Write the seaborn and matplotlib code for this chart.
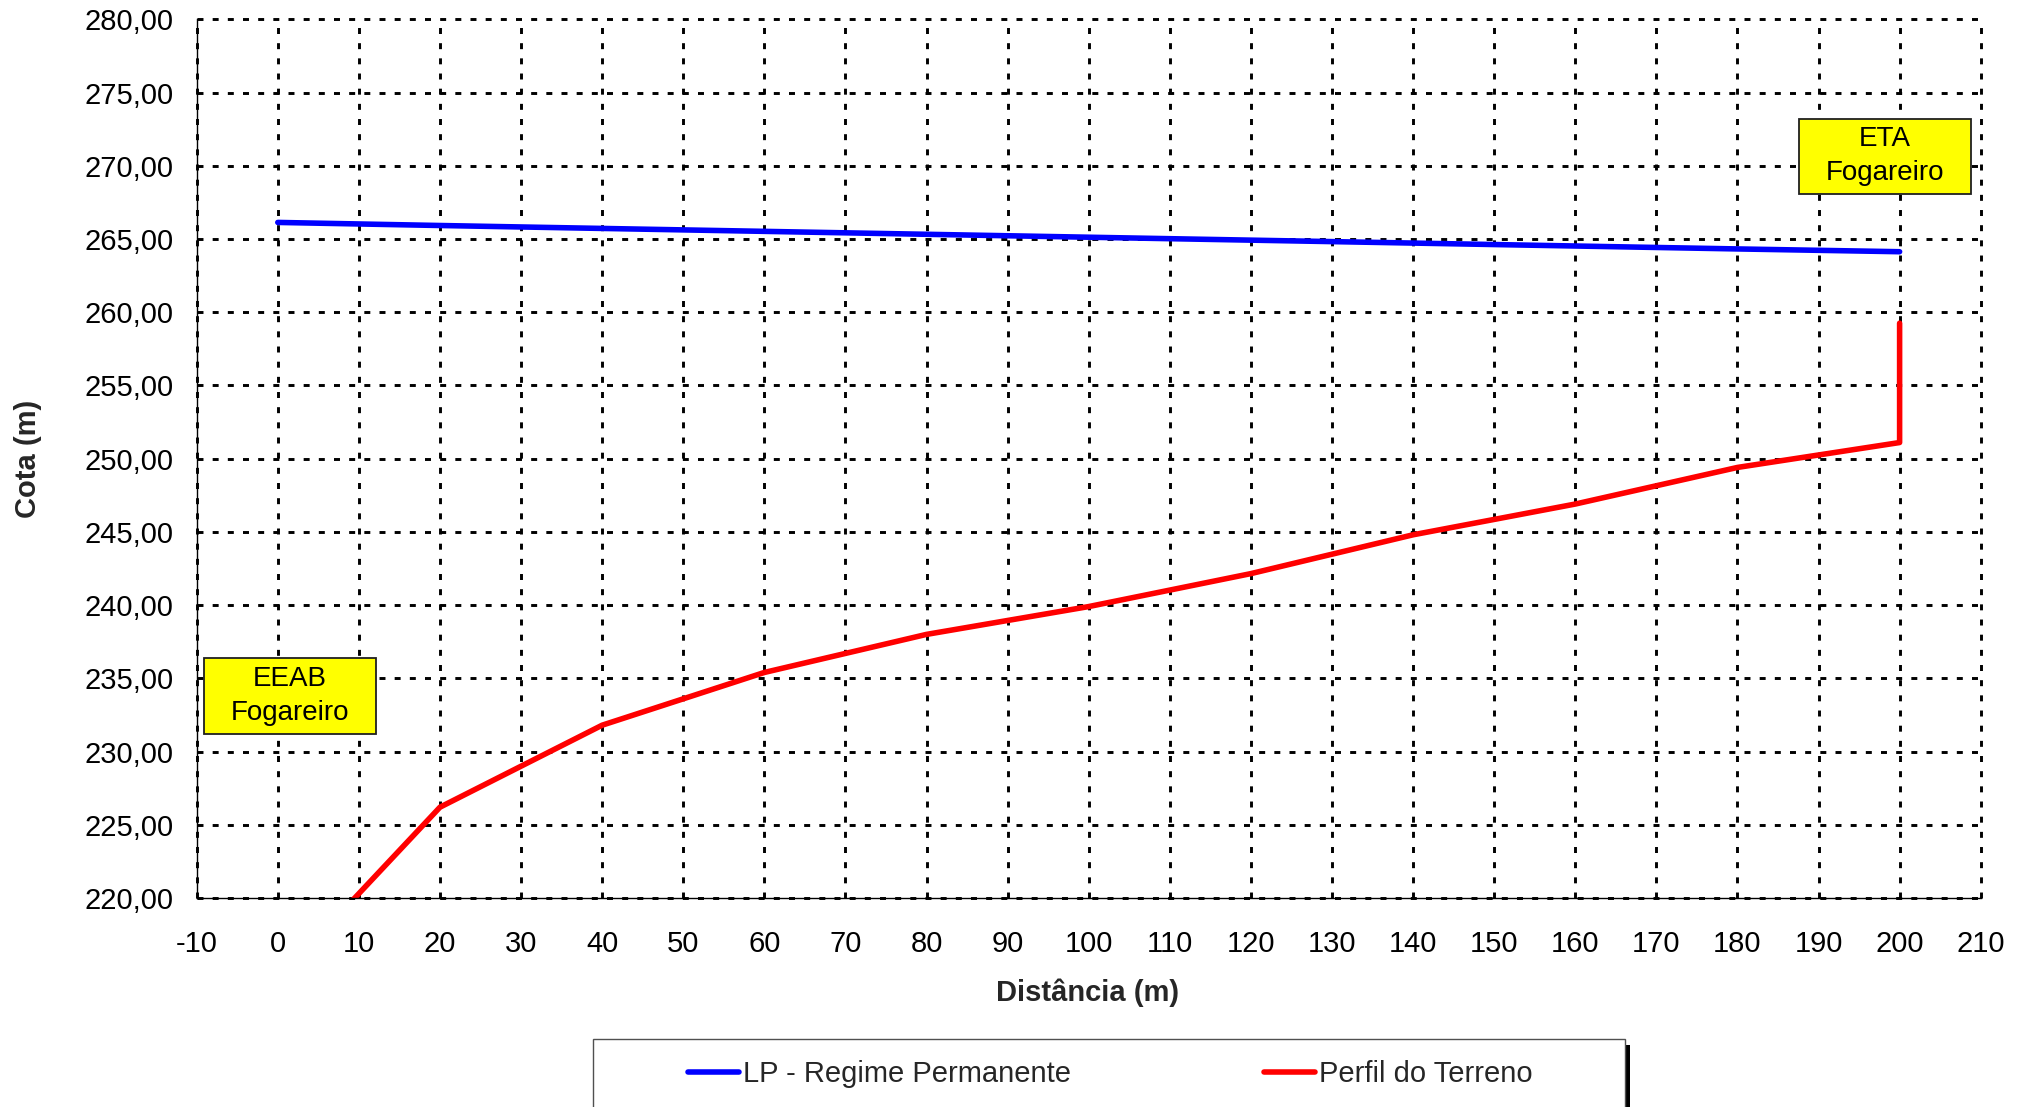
import matplotlib
matplotlib.use("Agg")
import matplotlib.pyplot as plt
from matplotlib.patches import Rectangle
from matplotlib.ticker import FuncFormatter, MultipleLocator
import seaborn as sns
import pandas as pd

# ---------------- data ----------------
lp_dist = [0, 20, 40, 60, 80, 100, 120, 140, 160, 180, 200]
lp_cota = [266.13, 265.92, 265.72, 265.52, 265.32, 265.12, 264.92, 264.72, 264.52, 264.32, 264.13]

terreno_dist = [0, 20, 40, 60, 80, 100, 120, 140, 160, 180, 200, 200]
terreno_cota = [214.4, 226.2, 231.8, 235.4, 238.0, 239.9, 242.15, 244.8, 246.9, 249.4, 251.1, 259.25]

series_labels = ["LP - Regime Permanente", "Perfil do Terreno"]
series_colors = ["#0000FF", "#FF0000"]

ann_texts = ["EEAB\nFogareiro", "ETA\nFogareiro"]
ann_x = [1.5, 198.2]
ann_y = [233.8, 270.65]

x_label = "Distância (m)"
y_label = "Cota (m)"
x_lim = (-10, 210)
y_lim = (220, 280)

# ---------------- style ----------------
sns.set_style("white")
plt.rcParams["font.family"] = ["Liberation Sans", "DejaVu Sans"]

W, H = 2029, 1107
fig = plt.figure(figsize=(W / 100, H / 100), dpi=100)
ax = fig.add_axes([196.7 / W, 1 - 898 / H, (1980.7 - 196.7) / W, (898 - 19.3) / H])

df_lp = pd.DataFrame({"d": lp_dist, "c": lp_cota})
df_t = pd.DataFrame({"d": terreno_dist, "c": terreno_cota})

sns.lineplot(data=df_lp, x="d", y="c", estimator=None, sort=False, ax=ax,
             color=series_colors[0], lw=3.2, label=series_labels[0], zorder=3)
sns.lineplot(data=df_t, x="d", y="c", estimator=None, sort=False, ax=ax,
             color=series_colors[1], lw=3.2, label=series_labels[1], zorder=3)

handles, labels = ax.get_legend_handles_labels()
if ax.get_legend() is not None:
    ax.get_legend().remove()

ax.set_xlim(*x_lim)
ax.set_ylim(*y_lim)
ax.xaxis.set_major_locator(MultipleLocator(10))
ax.yaxis.set_major_locator(MultipleLocator(5))
ax.yaxis.set_major_formatter(FuncFormatter(lambda v, p: f"{v:.2f}".replace(".", ",")))
ax.xaxis.set_major_formatter(FuncFormatter(lambda v, p: f"{v:.0f}"))

# grid
ax.set_axisbelow(True)
ax.grid(True, which="major", color="black", lw=2.1, ls=(0, (2.05, 3.15)))
for gl in ax.get_xgridlines() + ax.get_ygridlines():
    gl.set_clip_on(False)

for s in ["top", "right"]:
    ax.spines[s].set_visible(False)
for s in ["left", "bottom"]:
    ax.spines[s].set_color("black")
    ax.spines[s].set_linewidth(1.0)
    ax.spines[s].set_zorder(4)

ax.tick_params(axis="both", which="major", direction="out", length=6.5, width=1.0,
               color="#808080", labelsize=21, labelcolor="black")
ax.tick_params(axis="x", pad=16.5)
ax.tick_params(axis="y", pad=10)

ax.set_xlabel(x_label, fontsize=21, fontweight="bold", va="center")
ax.set_ylabel(y_label, fontsize=21, fontweight="bold", va="center")
ax.xaxis.set_label_coords(0.4996, -0.1075)
ax.yaxis.set_label_coords(-0.0943, 0.5)

# annotation boxes
box_w, box_h = 21.1, 5.15
for t, xc, yc in zip(ann_texts, ann_x, ann_y):
    ax.add_patch(Rectangle((xc - box_w / 2, yc - box_h / 2), box_w, box_h,
                           facecolor="#FFFF00", edgecolor="#202020", lw=1.3, zorder=5))
    ax.text(xc, yc, t, ha="center", va="center", fontsize=20, color="black",
            linespacing=1.38, zorder=6)

# legend frame (with shadow) and legend
lx0, lx1 = 592.6, 1625.0
ly0, ly1 = 1039.0, 1112.0
fig.patches.append(Rectangle(((lx0 + 5) / W, 1 - (ly1 + 6) / H), (lx1 - lx0) / W, (ly1 - ly0) / H,
                             transform=fig.transFigure, facecolor="black", edgecolor="none", zorder=0))
fig.patches.append(Rectangle((lx0 / W, 1 - ly1 / H), (lx1 - lx0) / W, (ly1 - ly0) / H,
                             transform=fig.transFigure, facecolor="white", edgecolor="#505050",
                             lw=1.0, zorder=1))

for h in handles:
    h.set_linewidth(4)
fig.legend(handles, labels, loc="center left", bbox_to_anchor=(688 / W, 1 - 1074 / H),
           ncol=2, frameon=False, fontsize=21, handlelength=1.75, handletextpad=0.14,
           columnspacing=6.6, borderpad=0, borderaxespad=0)

fig.savefig("out.png", dpi=100)
